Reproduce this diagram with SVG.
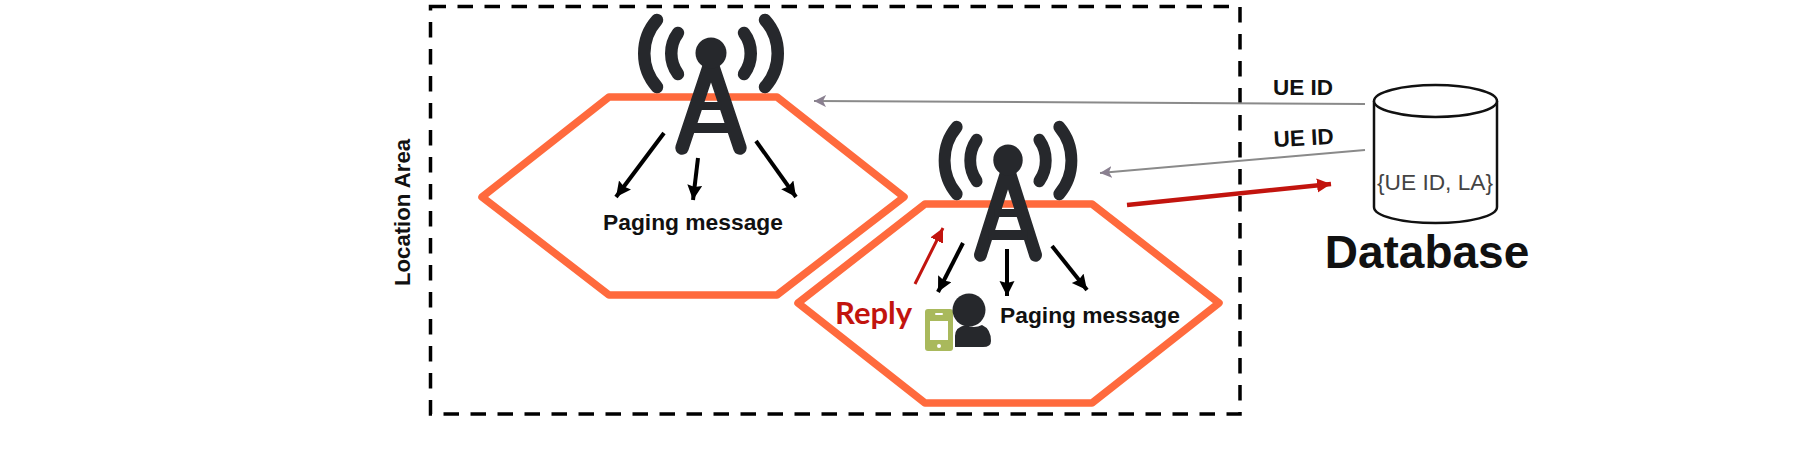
<svg xmlns="http://www.w3.org/2000/svg" width="1795" height="456" viewBox="0 0 1795 456">
<style>
text{font-family:"Liberation Sans",Arial,sans-serif;fill:#111}
.b{font-weight:bold}
.hex{fill:none;stroke:#ff6a3d;stroke-width:7.5;stroke-linejoin:round}
.blk{stroke:#000;stroke-width:4;fill:none;marker-end:url(#ab)}
.red{stroke:#c2140e;fill:none;marker-end:url(#ar)}
.gry{stroke:#8a8a8a;stroke-width:2;fill:none;marker-end:url(#ag)}
.ink{stroke:#26282c;fill:none;stroke-linecap:round}
</style>
<defs>
<marker id="ab" markerUnits="userSpaceOnUse" markerWidth="18" markerHeight="16" refX="15" refY="7.5" orient="auto"><path d="M0 0L15 7.500L0 15L2 7.500Z" fill="#000"/></marker>
<marker id="ar" markerUnits="userSpaceOnUse" markerWidth="18" markerHeight="16" refX="14" refY="7" orient="auto"><path d="M0 0L14 7L0 14Z" fill="#c2140e"/></marker>
<marker id="ag" markerUnits="userSpaceOnUse" markerWidth="14" markerHeight="14" refX="12" refY="6" orient="auto"><path d="M0 0L12 6L0 12L3 6Z" fill="#8a8090"/></marker>
<g id="tower">
<g class="ink" stroke-width="12.5">
<path d="M-54 -33C-71 -14 -71 15 -54 34"/>
<path d="M54 -33C71 -14 71 15 54 34"/>
<path d="M-33 -20C-42 -8 -42 9 -33 21"/>
<path d="M33 -20C42 -8 42 9 33 21"/>
<path d="M0 8L-29 95M0 8L29 95" stroke-width="13.5"/>
</g>
<path d="M-14 49H14V57H-14ZM-21 70H21V80H-21Z" fill="#26282c"/>
<circle r="15.5" fill="#26282c"/>
</g>
</defs>
<rect width="1795" height="456" fill="#fff"/>
<g id="area"><rect x="430.5" y="6.5" width="809.5" height="407.500" fill="none" stroke="#000" stroke-width="3.500" stroke-dasharray="15.500 11.500"/>
<text class="b" transform="translate(410 212.500) rotate(-90)" text-anchor="middle" font-size="22.200">Location Area</text></g>
<g id="cell1"><path class="hex" d="M482 197L609 97H777L904 197L777 295H609Z"/><use href="#tower" transform="translate(711 53)"/><text class="b" x="603" y="230" font-size="22.800">Paging message</text></g>
<g id="cell2"><path class="hex" d="M798 303L925 204H1092L1219 303L1092 403H925Z"/><use href="#tower" transform="translate(1008 160) scale(.95 1)"/><text class="b" x="1000" y="323" font-size="22.800">Paging message</text>
<text x="835" y="324" font-size="31" font-weight="bold" style="font-family:Lato,sans-serif;fill:#c2140e">Reply</text></g>
<g id="ue">
<rect x="925" y="309" width="28" height="42" rx="3" fill="#a9b95c"/><rect x="930" y="321" width="18" height="19" fill="#fff"/><rect x="935" y="313" width="8" height="2" rx="1" fill="#fff"/><circle cx="939" cy="346" r="2" fill="#fff"/>
<path d="M955 347V336Q955 327 966 325Q974 329 982 325Q991 329 991 341Q991 347 983 347Z" fill="#26282c"/><circle cx="969" cy="310" r="16.500" fill="#26282c"/></g>
<g id="database"><path d="M1374 101V207C1374 216 1401 223 1435.500 223S1497 216 1497 207V101" fill="#fff" stroke="#111" stroke-width="2.500"/><ellipse cx="1435.500" cy="101" rx="61.500" ry="16" fill="#fff" stroke="#111" stroke-width="2.500"/>
<text x="1435" y="190" text-anchor="middle" font-size="22.700" style="fill:#444">{UE ID, LA}</text>
<text class="b" x="1427" y="268" text-anchor="middle" font-size="46">Database</text></g>
<g id="connectors">
<path class="blk" d="M664 133L616 197"/><path class="blk" d="M698 158L693 200"/><path class="blk" d="M756 141L796 197"/>
<path class="blk" d="M963 243L938 292"/><path class="blk" d="M1007 249V296"/><path class="blk" d="M1052 246L1087 290"/>
<path class="red" stroke-width="3" d="M915 284L943 228"/><path class="red" stroke-width="4.500" d="M1127 205L1331 184"/>
<path class="gry" d="M1365 104L814 101"/><path class="gry" d="M1365 150L1100 173"/>
</g>
<g id="labels"><text class="b" x="1273" y="95" font-size="22.500">UE ID</text><text class="b" transform="translate(1274 147) rotate(-3)" font-size="22.500">UE ID</text></g>
</svg>
